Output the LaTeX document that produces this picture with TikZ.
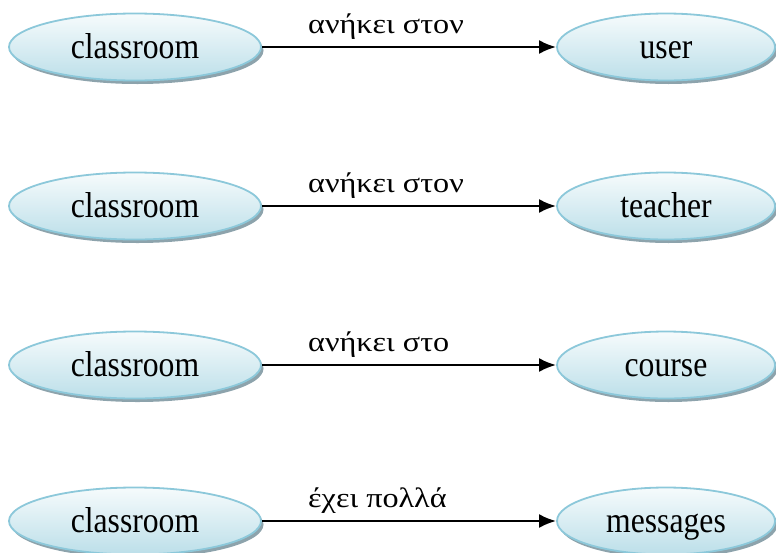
\documentclass[tikz,border=0pt]{standalone}
\usepackage{fontspec}
\setmainfont{Liberation Serif}
\newfontfamily\entityfont[FakeStretch=0.88]{Liberation Serif}
\newfontfamily\labelfont[FakeStretch=1.15]{Liberation Serif}
\usetikzlibrary{shapes.geometric,shadows,arrows.meta}

\definecolor{entborder}{HTML}{8CC8DA}
\definecolor{enttop}{HTML}{F6FBFC}
\definecolor{entbottom}{HTML}{BCDFE9}
\definecolor{entshadow}{HTML}{8DA3AC}

\tikzset{
  entity/.style={ellipse, draw=entborder, line width=1.8pt,
    top color=enttop, bottom color=entbottom,
    drop shadow={shadow xshift=2.5pt, shadow yshift=-3.5pt, fill=entshadow, opacity=1},
    inner sep=0pt, minimum height=67pt,
    text height=29pt, text depth=7pt,
    font=\entityfont\fontsize{36}{40}\selectfont},
  srcent/.style={entity, minimum width=252pt},
  dstent/.style={entity, minimum width=218pt},
  rel/.style={draw=black, line width=2.4pt, -{Latex[length=17pt,width=14pt]}},
  rellabel/.style={anchor=base west, inner sep=0pt,
    font=\labelfont\fontsize{28}{32}\selectfont}
}

\begin{document}
\begin{tikzpicture}[x=1pt,y=-1pt]
  \useasboundingbox (0,0) rectangle (776,552);

  % one row per relationship of "classroom"
  \foreach \r/\y/\dst/\lbl in {
      1/47/user/ανήκει στον,
      2/206/teacher/ανήκει στον,
      3/365/course/ανήκει στο,
      4/521/messages/έχει πολλά} {
    \node[srcent] (src\r) at (135,\y) {classroom};
    \node[dstent] (dst\r) at (666,\y) {\dst};
    \draw[rel] (src\r.east) -- (dst\r.west);
    \node[rellabel] (lbl\r) at (308,\y-14) {\lbl};
  }
\end{tikzpicture}
\end{document}
